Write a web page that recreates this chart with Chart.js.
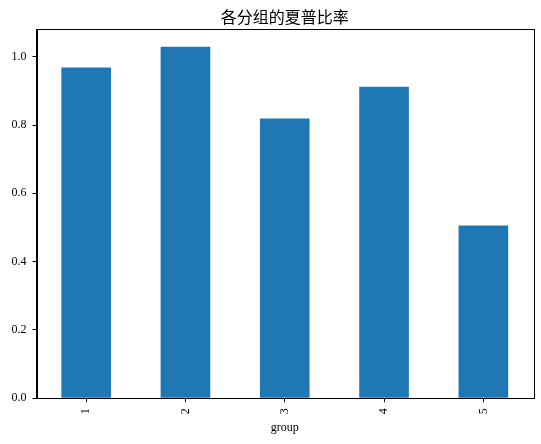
<!DOCTYPE html>
<html>
<head>
<meta charset="utf-8">
<script src="https://cdn.jsdelivr.net/npm/chart.js@4.4.1/dist/chart.umd.min.js"></script>
<style>
  html, body { margin: 0; padding: 0; background: #fff; }
  #wrap { width: 541px; height: 444px; }
</style>
</head>
<body>
<div id="wrap"><canvas id="chart" width="541" height="444"></canvas></div>
<script>
// data
const groups = ['1', '2', '3', '4', '5'];
const sharpe = [0.968, 1.029, 0.819, 0.912, 0.506];
const yTicks = ['0.0', '0.2', '0.4', '0.6', '0.8', '1.0'];

const chartTitle = '各分组的夏普比率';
const xTitle = 'group';

const serif = "'Liberation Serif', 'DejaVu Serif', serif";

// draws the full box around the plot like matplotlib spines
const boxPlugin = {
	id: 'box',
	afterDraw(chart) {
		const a = chart.chartArea;
		const ctx = chart.ctx;
		ctx.save();
		ctx.strokeStyle = '#000';
		ctx.lineWidth = 1;
		ctx.strokeRect(Math.round(a.left) + 0.5, Math.round(a.top) + 0.5,
			Math.round(a.right - a.left), Math.round(a.bottom - a.top));
		ctx.restore();
	}
};

const ctx = document.getElementById('chart').getContext('2d');
const chart = new Chart(ctx, {
	type: 'bar',
	data: {
		labels: groups,
		datasets: [{
			label: 'sharpe',
			data: sharpe,
			backgroundColor: '#1f77b4',
			borderWidth: 0,
			barPercentage: 0.5,
			categoryPercentage: 1.0
		}]
	},
	options: {
		responsive: false,
		animation: false,
		devicePixelRatio: 1,
		layout: { padding: { left: 0, right: 8, top: 0, bottom: 0 } },
		plugins: {
			legend: { display: false },
			tooltip: { enabled: false },
			title: {
				display: true,
				text: chartTitle,
				fullSize: false,
				color: '#000',
				font: { family: "'Noto Sans CJK SC'", size: 16, weight: 'normal' },
				padding: { top: 7, bottom: 3 }
			}
		},
		scales: {
			x: {
				offset: true,
				grid: {
					display: true,
					offset: false,
					drawOnChartArea: false,
					drawTicks: true,
					tickLength: 4,
					color: '#000'
				},
				border: { display: true, color: '#000', width: 1 },
				ticks: {
					color: '#000',
					autoSkip: false,
					minRotation: 90,
					maxRotation: 90,
					padding: 6,
					font: { family: serif, size: 12 }
				},
				title: {
					display: true,
					text: xTitle,
					color: '#000',
					font: { family: serif, size: 12 },
					padding: { top: 0, bottom: 9 }
				},
				afterFit(scale) { scale.height = 45.7; }
			},
			y: {
				min: 0,
				max: Math.max(...sharpe) * 1.05,
				grid: {
					display: true,
					drawOnChartArea: false,
					drawTicks: true,
					tickLength: 4,
					color: '#000'
				},
				border: { display: true, color: '#000', width: 1 },
				ticks: {
					color: '#000',
					stepSize: 0.2,
					includeBounds: false,
					padding: 6,
					font: { family: serif, size: 12 },
					callback: function (v) {
						const i = Math.round(v / 0.2);
						return yTicks[i] !== undefined ? yTicks[i] : '';
					}
				},
				afterFit(scale) { scale.width = 36.5; }
			}
		}
	},
	plugins: [boxPlugin]
});
</script>
</body>
</html>
